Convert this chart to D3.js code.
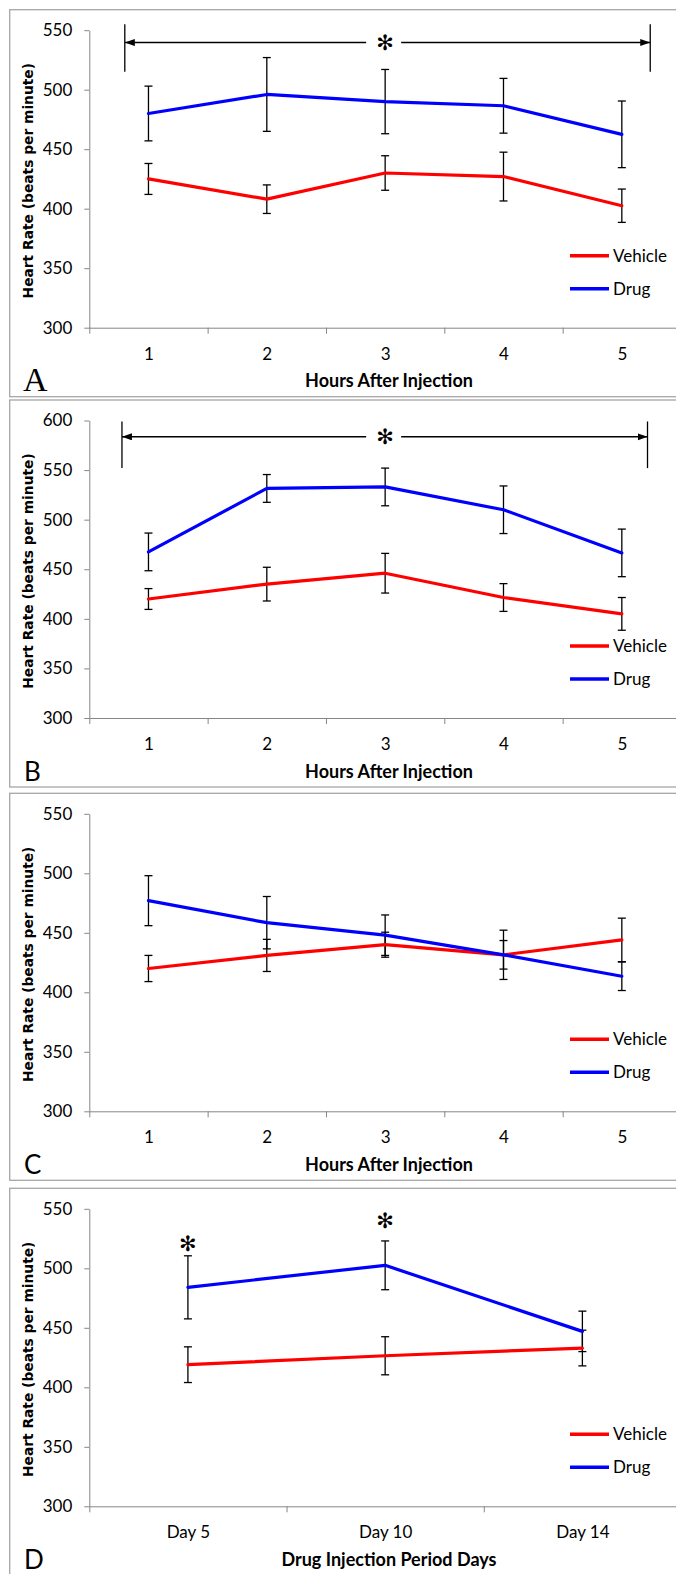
<!DOCTYPE html>
<html>
<head>
<meta charset="utf-8">
<script src="https://cdn.jsdelivr.net/npm/d3@7"></script>
<style>
  body { margin: 0; background: #fff; }
  svg { display: block; }
</style>
</head>
<body>
<svg id="fig" width="676" height="1574"></svg>
<script>
'use strict';

// categories
const hourLabels = ['1', '2', '3', '4', '5'];
const dayLabels = ['Day 5', 'Day 10', 'Day 14'];
const yTicksLow = [300, 350, 400, 450, 500, 550];
const yTicksHigh = [300, 350, 400, 450, 500, 550, 600];

// panel A
const vehicleA = [425, 408, 430, 427, 402.5];
const vehicleErrA = [13, 12, 14.5, 20.5, 14];
const drugA = [480, 496, 490, 486.5, 462.5];
const drugErrA = [23, 31, 27, 23, 28];

// panel B
const vehicleB = [420, 435, 446, 421.5, 405];
const vehicleErrB = [10.5, 17, 20, 14, 16.5];
const drugB = [467.5, 531.5, 533, 510, 466.5];
const drugErrB = [19, 14, 19, 24, 24];

// panel C
const vehicleC = [420, 431, 440, 431.5, 444];
const vehicleErrC = [11, 13.5, 10.5, 12, 18.3];
const drugC = [477, 458.5, 448, 431.5, 413.5];
const drugErrC = [21, 22, 17, 20.7, 12];

// panel D
const vehicleD = [419, 426.5, 433];
const vehicleErrD = [15, 16, 15];
const drugD = [484, 502.5, 447];
const drugErrD = [26.5, 20.5, 17];

// significance marks (x in category units, y in beats per minute)
const bracketA = {from: 0.8, to: 5.24, star: 3, y: 539.6, top: 555, bottom: 515};
const bracketB = {from: 0.776, to: 5.217, star: 3, y: 583.5, top: 599, bottom: 552};
const starsD = [{cat: 1, y: 521}, {cat: 2, y: 540.5}];

const panels = [
  {letter: 'A', serif: true, cats: hourLabels, ticks: yTicksLow, xTitle: 'Hours After Injection',
   vehicle: vehicleA, vehicleErr: vehicleErrA, drug: drugA, drugErr: drugErrA, bracket: bracketA, stars: []},
  {letter: 'B', cats: hourLabels, ticks: yTicksHigh, xTitle: 'Hours After Injection',
   vehicle: vehicleB, vehicleErr: vehicleErrB, drug: drugB, drugErr: drugErrB, bracket: bracketB, stars: []},
  {letter: 'C', cats: hourLabels, ticks: yTicksLow, xTitle: 'Hours After Injection',
   vehicle: vehicleC, vehicleErr: vehicleErrC, drug: drugC, drugErr: drugErrC, bracket: null, stars: []},
  {letter: 'D', cats: dayLabels, ticks: yTicksLow, xTitle: 'Drug Injection Period Days',
   vehicle: vehicleD, vehicleErr: vehicleErrD, drug: drugD, drugErr: drugErrD, bracket: null, stars: starsD},
];

const panelTops = [9.7, 400, 793.3, 1188.3];
const RED = '#ff0000', BLUE = '#0000ff', AXIS = '#868686';
const SANS = 'Lato, "Open Sans", sans-serif';
const STAR = '\u273B';

const svg = d3.select('#fig');

svg.append('defs').append('marker')
    .attr('id', 'arrow')
    .attr('markerUnits', 'userSpaceOnUse')
    .attr('markerWidth', 11).attr('markerHeight', 8)
    .attr('refX', 10).attr('refY', 3.5)
    .attr('orient', 'auto-start-reverse')
  .append('path')
    .attr('d', 'M0,0L10,3.5L0,7Z')
    .attr('fill', '#000');

function drawStar(g, cx, cy) {
  g.append('text').attr('x', cx).attr('y', cy).attr('dy', '0.36em')
      .attr('text-anchor', 'middle')
      .attr('font-family', '"DejaVu Sans", sans-serif').attr('font-size', 21)
      .attr('font-weight', 'bold')
      .text(STAR);
}

function drawPanel(p, top) {
  const g = svg.append('g').attr('transform', 'translate(0,' + top + ')');
  const n = p.cats.length;

  g.append('rect')
      .attr('x', 9.7).attr('y', 0)
      .attr('width', 720).attr('height', 387)
      .attr('fill', 'none').attr('stroke', '#a6a6a6').attr('stroke-width', 1.3);

  const x = d3.scaleLinear().domain([0.5, n + 0.5]).range([89.3, 681]);
  const y = d3.scaleLinear().domain([300, d3.max(p.ticks)]).range([318, 20.5]);

  // y axis
  const yAxis = g.append('g')
      .attr('transform', 'translate(89.3,0)')
      .call(d3.axisLeft(y).tickValues(p.ticks).tickSize(5).tickSizeOuter(0).tickPadding(12));
  yAxis.select('.domain').attr('stroke', AXIS);
  yAxis.selectAll('.tick line').attr('stroke', AXIS);
  yAxis.selectAll('.tick text')
      .attr('font-family', SANS).attr('font-size', 17).attr('fill', '#000');

  // x axis: tick marks between categories
  const xAxis = g.append('g')
      .attr('transform', 'translate(0,318)')
      .call(d3.axisBottom(x).tickValues(d3.range(n + 1).map(i => i + 0.5))
              .tickSize(6).tickSizeOuter(0).tickFormat(''));
  xAxis.select('.domain').attr('stroke', AXIS);
  xAxis.selectAll('.tick line').attr('stroke', AXIS);

  // x labels at category centers
  const xLab = g.append('g')
      .attr('transform', 'translate(0,318)')
      .call(d3.axisBottom(x).tickValues(d3.range(1, n + 1))
              .tickSize(0).tickPadding(20).tickFormat(d => p.cats[d - 1]));
  xLab.select('.domain').remove();
  xLab.selectAll('.tick text')
      .attr('font-family', SANS).attr('font-size', 17).attr('fill', '#000');

  // axis titles
  g.append('text')
      .attr('transform', 'translate(28.5,' + 171 + ') rotate(-90)')
      .attr('text-anchor', 'middle').attr('dy', '0.35em')
      .attr('font-family', '"DejaVu Sans", Verdana, sans-serif')
      .attr('font-weight', 'bold').attr('font-size', 13.8)
      .text('Heart Rate (beats per minute)');

  g.append('text')
      .attr('x', 389).attr('y', 371.5).attr('dy', '0.35em')
      .attr('text-anchor', 'middle')
      .attr('font-family', SANS).attr('font-weight', 'bold').attr('font-size', 18)
      .text(p.xTitle);

  // panel letter
  g.append('text')
      .attr('x', p.serif ? 23 : 24).attr('y', p.serif ? 381 : 380.5)
      .attr('font-family', p.serif ? '"Liberation Serif", "Times New Roman", serif' : SANS)
      .attr('font-size', p.serif ? 34 : 26)
      .text(p.letter);

  // error bars then lines
  const series = [
    {name: 'Vehicle', color: RED, vals: p.vehicle, errs: p.vehicleErr},
    {name: 'Drug', color: BLUE, vals: p.drug, errs: p.drugErr},
  ];
  series.forEach(s => {
    const eb = g.append('g').attr('stroke', '#000').attr('stroke-width', 1.3);
    s.vals.forEach((v, i) => {
      const cx = x(i + 1);
      eb.append('line').attr('x1', cx).attr('x2', cx)
          .attr('y1', y(v - s.errs[i])).attr('y2', y(v + s.errs[i]));
      [v - s.errs[i], v + s.errs[i]].forEach(e => {
        eb.append('line').attr('x1', cx - 4).attr('x2', cx + 4)
            .attr('y1', y(e)).attr('y2', y(e));
      });
    });
  });
  series.forEach(s => {
    g.append('path')
        .datum(s.vals)
        .attr('fill', 'none').attr('stroke', s.color).attr('stroke-width', 3.2)
        .attr('stroke-linejoin', 'round').attr('stroke-linecap', 'round')
        .attr('d', d3.line().x((d, i) => x(i + 1)).y(d => y(d)));
  });

  // legend
  series.forEach((s, i) => {
    const ly = 246 + i * 33;
    g.append('line').attr('x1', 570).attr('x2', 609).attr('y1', ly).attr('y2', ly)
        .attr('stroke', s.color).attr('stroke-width', 3.4);
    g.append('text').attr('x', 613).attr('y', ly).attr('dy', '0.35em')
        .attr('font-family', SANS).attr('font-size', 17).attr('fill', '#000')
        .text(s.name);
  });

  // significance bracket
  if (p.bracket) {
    const b = p.bracket;
    const by = y(b.y), sx = x(b.star);
    g.append('line').attr('x1', x(b.from)).attr('x2', sx - 19).attr('y1', by).attr('y2', by)
        .attr('stroke', '#000').attr('stroke-width', 1.5).attr('marker-start', 'url(#arrow)');
    g.append('line').attr('x1', sx + 16).attr('x2', x(b.to)).attr('y1', by).attr('y2', by)
        .attr('stroke', '#000').attr('stroke-width', 1.5).attr('marker-end', 'url(#arrow)');
    [b.from, b.to].forEach(c => {
      g.append('line').attr('x1', x(c)).attr('x2', x(c))
          .attr('y1', y(b.top)).attr('y2', y(b.bottom))
          .attr('stroke', '#000').attr('stroke-width', 1.3);
    });
    drawStar(g, sx, by);
  }

  p.stars.forEach(st => drawStar(g, x(st.cat), y(st.y)));
}

panels.forEach((p, i) => drawPanel(p, panelTops[i]));
</script>
</body>
</html>
